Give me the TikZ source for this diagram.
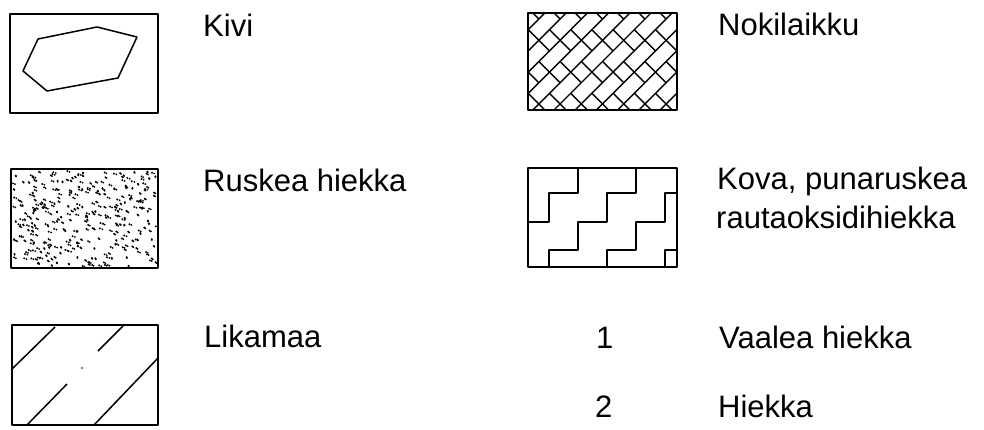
\documentclass[tikz,border=0pt]{standalone}
\usepackage{fontspec}
\setmainfont{Liberation Sans}
\begin{document}
\begin{tikzpicture}[x=1pt,y=-1pt,line join=round,
  box/.style={draw,line width=1.7pt,inner sep=0pt,outer sep=0pt,anchor=north west},
  lab/.style={anchor=base west,inner sep=0pt,font=\fontsize{31}{38}\selectfont},
  pat/.style={line width=1.5pt},
  fine/.style={line width=1.4pt}]
\useasboundingbox (0,0) rectangle (984,430);

% --- Kivi ---
\draw[pat] (38,39) -- (97,27) -- (137,37) -- (118,78) -- (47,91) -- (23,71) -- cycle;
\node[box,minimum width=148pt,minimum height=99pt] (kivi) at (10,14) {};
\node[lab] (kivilab) at (203,37) {Kivi};

% --- Ruskea hiekka ---
\begin{scope}
  \clip (11,169) rectangle (158,268);
  \pgfmathsetseed{7}
  \foreach \i in {1,...,330} {
    \pgfmathsetmacro\xx{13+143*rnd}
    \pgfmathsetmacro\yy{171+95*rnd}
    \pgfmathsetmacro\dx{2.5*rnd}
    \fill (\xx,\yy) circle (1.1pt);
    \fill (\xx+\dx,\yy+0.8) circle (1.0pt);
  }
\end{scope}
\node[box,minimum width=147pt,minimum height=99pt] (ruskea) at (11,169) {};
\node[lab] (ruskealab) at (203,192) {Ruskea hiekka};

% --- Likamaa ---
\draw[pat] (12,369) -- (55,327);
\draw[pat] (98,351) -- (123,326);
\draw[pat] (27,425) -- (67,384);
\draw[pat] (94,425) -- (158,358);
\fill (82,368) circle (0.9pt);
\node[box,minimum width=146pt,minimum height=100pt] (likamaa) at (12,325) {};
\node[lab] (likamaalab) at (204,347) {Likamaa};

% --- Nokilaikku ---
\begin{scope}
  \clip (528,13) rectangle (677,110);
  \begin{scope}[shift={(602.5,61.5)},rotate=45]
    \foreach \k in {-7,...,7}
      \draw[fine] (-120,\k*15) -- (120,\k*15);
    \foreach \k in {-7,...,7}
      \foreach \m in {-6,...,6} {
        \pgfmathsetmacro\uu{(\k+3*\m)*15}
        \draw[fine] (\uu,\k*15) -- (\uu,\k*15+30);
      }
  \end{scope}
\end{scope}
\node[box,minimum width=149pt,minimum height=97pt] (noki) at (528,13) {};
\node[lab] (nokilab) at (718,36) {Nokilaikku};

% --- Kova, punaruskea rautaoksidihiekka ---
\draw[pat] (578,168) -- (578,193) -- (549,193) -- (549,222) -- (528,222);
\draw[pat] (636,168) -- (636,193) -- (607,193) -- (607,222) -- (578,222) -- (578,250) -- (549,250) -- (549,267);
\draw[pat] (677,193) -- (665,193) -- (665,222) -- (636,222) -- (636,250) -- (607,250) -- (607,267);
\draw[pat] (677,250) -- (665,250) -- (665,267);
\node[box,minimum width=149pt,minimum height=99pt] (kova) at (528,168) {};
\node[lab] (kovalab1) at (717,190) {Kova, punaruskea};
\node[lab] (kovalab2) at (716,229) {rautaoksidihiekka};

% --- numbered items ---
\node[lab] (n1) at (596,348) {1};
\node[lab] (n1lab) at (719,348) {Vaalea hiekka};
\node[lab] (n2) at (595,417) {2};
\node[lab] (n2lab) at (718,417) {Hiekka};
\end{tikzpicture}
\end{document}
